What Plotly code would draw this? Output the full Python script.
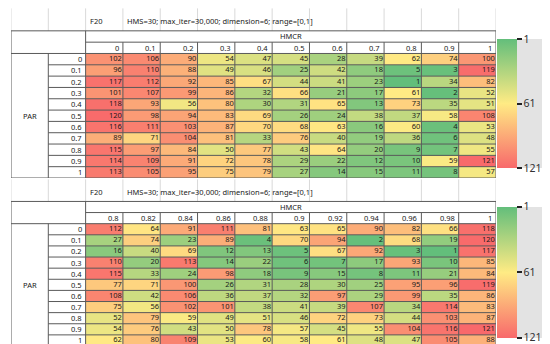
import plotly.graph_objects as go

# ---------------- data ----------------
PAR = ['0', '0.1', '0.2', '0.3', '0.4', '0.5', '0.6', '0.7', '0.8', '0.9', '1']
HMCR_TOP = ['0', '0.1', '0.2', '0.3', '0.4', '0.5', '0.6', '0.7', '0.8', '0.9', '1']
HMCR_BOTTOM = ['0.8', '0.82', '0.84', '0.86', '0.88', '0.9', '0.92', '0.94', '0.96', '0.98', '1']

TOP_VALUES = [
    [102, 106, 90, 54, 47, 45, 28, 39, 62, 74, 100],
    [96, 110, 88, 49, 46, 25, 42, 18, 5, 3, 119],
    [117, 112, 92, 85, 67, 44, 41, 23, 1, 34, 82],
    [101, 107, 99, 86, 32, 66, 21, 17, 61, 2, 52],
    [118, 93, 56, 80, 30, 31, 65, 13, 73, 35, 51],
    [120, 98, 94, 83, 69, 26, 24, 38, 37, 58, 108],
    [116, 111, 103, 87, 70, 68, 63, 16, 60, 4, 53],
    [89, 71, 104, 81, 33, 76, 40, 19, 36, 6, 48],
    [115, 97, 84, 50, 77, 43, 64, 20, 9, 7, 55],
    [114, 109, 91, 72, 78, 29, 22, 12, 10, 59, 121],
    [113, 105, 95, 75, 79, 27, 14, 15, 11, 8, 57],
]

BOTTOM_VALUES = [
    [112, 64, 91, 111, 81, 63, 65, 90, 82, 66, 118],
    [27, 74, 23, 89, 4, 70, 94, 2, 68, 19, 120],
    [16, 40, 69, 12, 13, 5, 67, 92, 3, 1, 117],
    [110, 20, 113, 14, 22, 6, 7, 17, 93, 10, 85],
    [115, 33, 24, 98, 18, 9, 15, 8, 11, 21, 84],
    [77, 71, 100, 26, 31, 28, 30, 25, 95, 96, 119],
    [108, 42, 106, 36, 37, 32, 97, 29, 99, 35, 86],
    [75, 56, 102, 101, 38, 41, 39, 107, 34, 114, 83],
    [52, 79, 59, 49, 51, 46, 72, 73, 44, 103, 87],
    [54, 76, 43, 50, 78, 57, 45, 55, 104, 116, 121],
    [62, 80, 109, 53, 60, 58, 61, 48, 47, 105, 88],
]

FUNC_LABEL = 'F20'
SETTINGS_TEXT = 'HMS=30; max_iter=30,000; dimension=6; range=[0,1]'
COL_TITLE = 'HMCR'
ROW_TITLE = 'PAR'
COLORBAR_TICKS = [1, 61, 121]

# ---------------- style ----------------
W, H = 550, 344
FONT = 'Noto Sans'
TXT = '#1a1a1a'
DARK = '#5a5a5a'
LIGHT = '#d9d9d9'
FS = 7.5
# Excel green-yellow-red (scale applied to negated values so 1 sits on top)
CSCALE = [[0.0, '#F8696B'], [0.5, '#FFEB84'], [1.0, '#63BE7B']]

X_DOM = [3 / W, 488 / W]
TABLES = [
    dict(vals=TOP_VALUES, cols=HMCR_TOP, xa='x', ya='y',
         ydom=[1 - 170 / H, 1 - 0.2 / H], cb_y=1 - 95.5 / H, cb_len=129),
    dict(vals=BOTTOM_VALUES, cols=HMCR_BOTTOM, xa='x2', ya='y2',
         ydom=[1 - 338 / H, 1 - 171.2 / H], cb_y=1 - 264 / H, cb_len=131),
]

fig = go.Figure()
shapes = []
annotations = []

for t in TABLES:
    vals, cols, xa, ya = t['vals'], t['cols'], t['xa'], t['ya']
    nR, nC = len(PAR), len(cols)
    flat = [v for row in vals for v in row]
    vmin, vmax = min(flat), max(flat)
    ridx = list(range(nR))
    cidx = list(range(nC))

    fig.add_trace(go.Heatmap(
        z=[[-v for v in row] for row in vals], x=cidx, y=ridx,
        zmin=-vmax, zmax=-vmin, colorscale=CSCALE, hoverinfo='skip',
        xaxis=xa, yaxis=ya,
        colorbar=dict(
            x=489 / W, xanchor='left', y=t['cb_y'], yanchor='middle',
            len=t['cb_len'], lenmode='pixels', thickness=20, thicknessmode='pixels',
            tickvals=[-v for v in COLORBAR_TICKS], ticktext=[str(v) for v in COLORBAR_TICKS],
            ticks='outside', ticklen=5, tickwidth=2, tickcolor='#222',
            tickfont=dict(family=FONT, size=10.5, color='#333'),
            outlinewidth=0, bgcolor='#e3e3e3', xpad=0, ypad=0,
        ),
    ))

    # cell values (right aligned)
    fig.add_trace(go.Scatter(
        x=[c + 0.47 for r in ridx for c in cidx],
        y=[r for r in ridx for c in cidx],
        text=[str(vals[r][c]) for r in ridx for c in cidx],
        mode='text', textposition='middle left',
        textfont=dict(family=FONT, size=FS, color=TXT),
        hoverinfo='skip', xaxis=xa, yaxis=ya, showlegend=False,
    ))

    left, right, top, bottom = -2.5, nC - 0.5, -2.5, nR - 0.5

    def line(x0, y0, x1, y1, color=DARK, w=1):
        shapes.append(dict(type='line', xref=xa, yref=ya, x0=x0, y0=y0, x1=x1, y1=y1,
                           line=dict(color=color, width=w), layer='above'))

    # light spreadsheet gridlines in the title row
    for k in range(nC + 3):
        line(left + k, -4.5, left + k, top, LIGHT)
    # table structure
    line(left, top, right, top)
    line(left, bottom, right, bottom)
    line(left, top, left, bottom)
    line(right, top, right, bottom)
    line(-0.5, top, -0.5, bottom)
    line(-0.5, -1.5, right, -1.5)
    line(left, -0.5, right, -0.5)
    line(-1.5, -0.5, -1.5, bottom)
    for c in range(1, nC):
        line(c - 0.5, -1.5, c - 0.5, bottom)
    for r in range(1, nR):
        line(-1.5, r - 0.5, right, r - 0.5)

    def ann(x, y, text, xanchor='center', xshift=0):
        annotations.append(dict(xref=xa, yref=ya, x=x, y=y, text=text, showarrow=False,
                                xanchor=xanchor, yanchor='middle', xshift=xshift,
                                font=dict(family=FONT, size=FS, color=TXT)))

    for c, lab in enumerate(cols):
        ann(c + 0.5, -1, lab, 'right', -2)
    for r, lab in enumerate(PAR):
        ann(-0.5, r, lab, 'right', -2)
    ann(-2, (nR - 1) / 2, ROW_TITLE)
    ann((nC - 1) / 2, -2, COL_TITLE)
    ann(-0.5, -3.35, FUNC_LABEL, 'left', 2)
    ann(0.5, -3.35, SETTINGS_TEXT, 'left', 2)

ax_common = dict(visible=False, fixedrange=True, showgrid=False, zeroline=False)
fig.update_layout(
    width=W, height=H, margin=dict(l=0, r=0, t=0, b=0),
    paper_bgcolor='white', plot_bgcolor='white', showlegend=False,
    xaxis=dict(domain=X_DOM, range=[-2.5, 10.5], anchor='y', **ax_common),
    yaxis=dict(domain=TABLES[0]['ydom'], range=[10.5, -4.5], anchor='x', **ax_common),
    xaxis2=dict(domain=X_DOM, range=[-2.5, 10.5], anchor='y2', **ax_common),
    yaxis2=dict(domain=TABLES[1]['ydom'], range=[10.5, -4.5], anchor='x2', **ax_common),
    shapes=shapes, annotations=annotations,
)

fig.write_html('out.html')
